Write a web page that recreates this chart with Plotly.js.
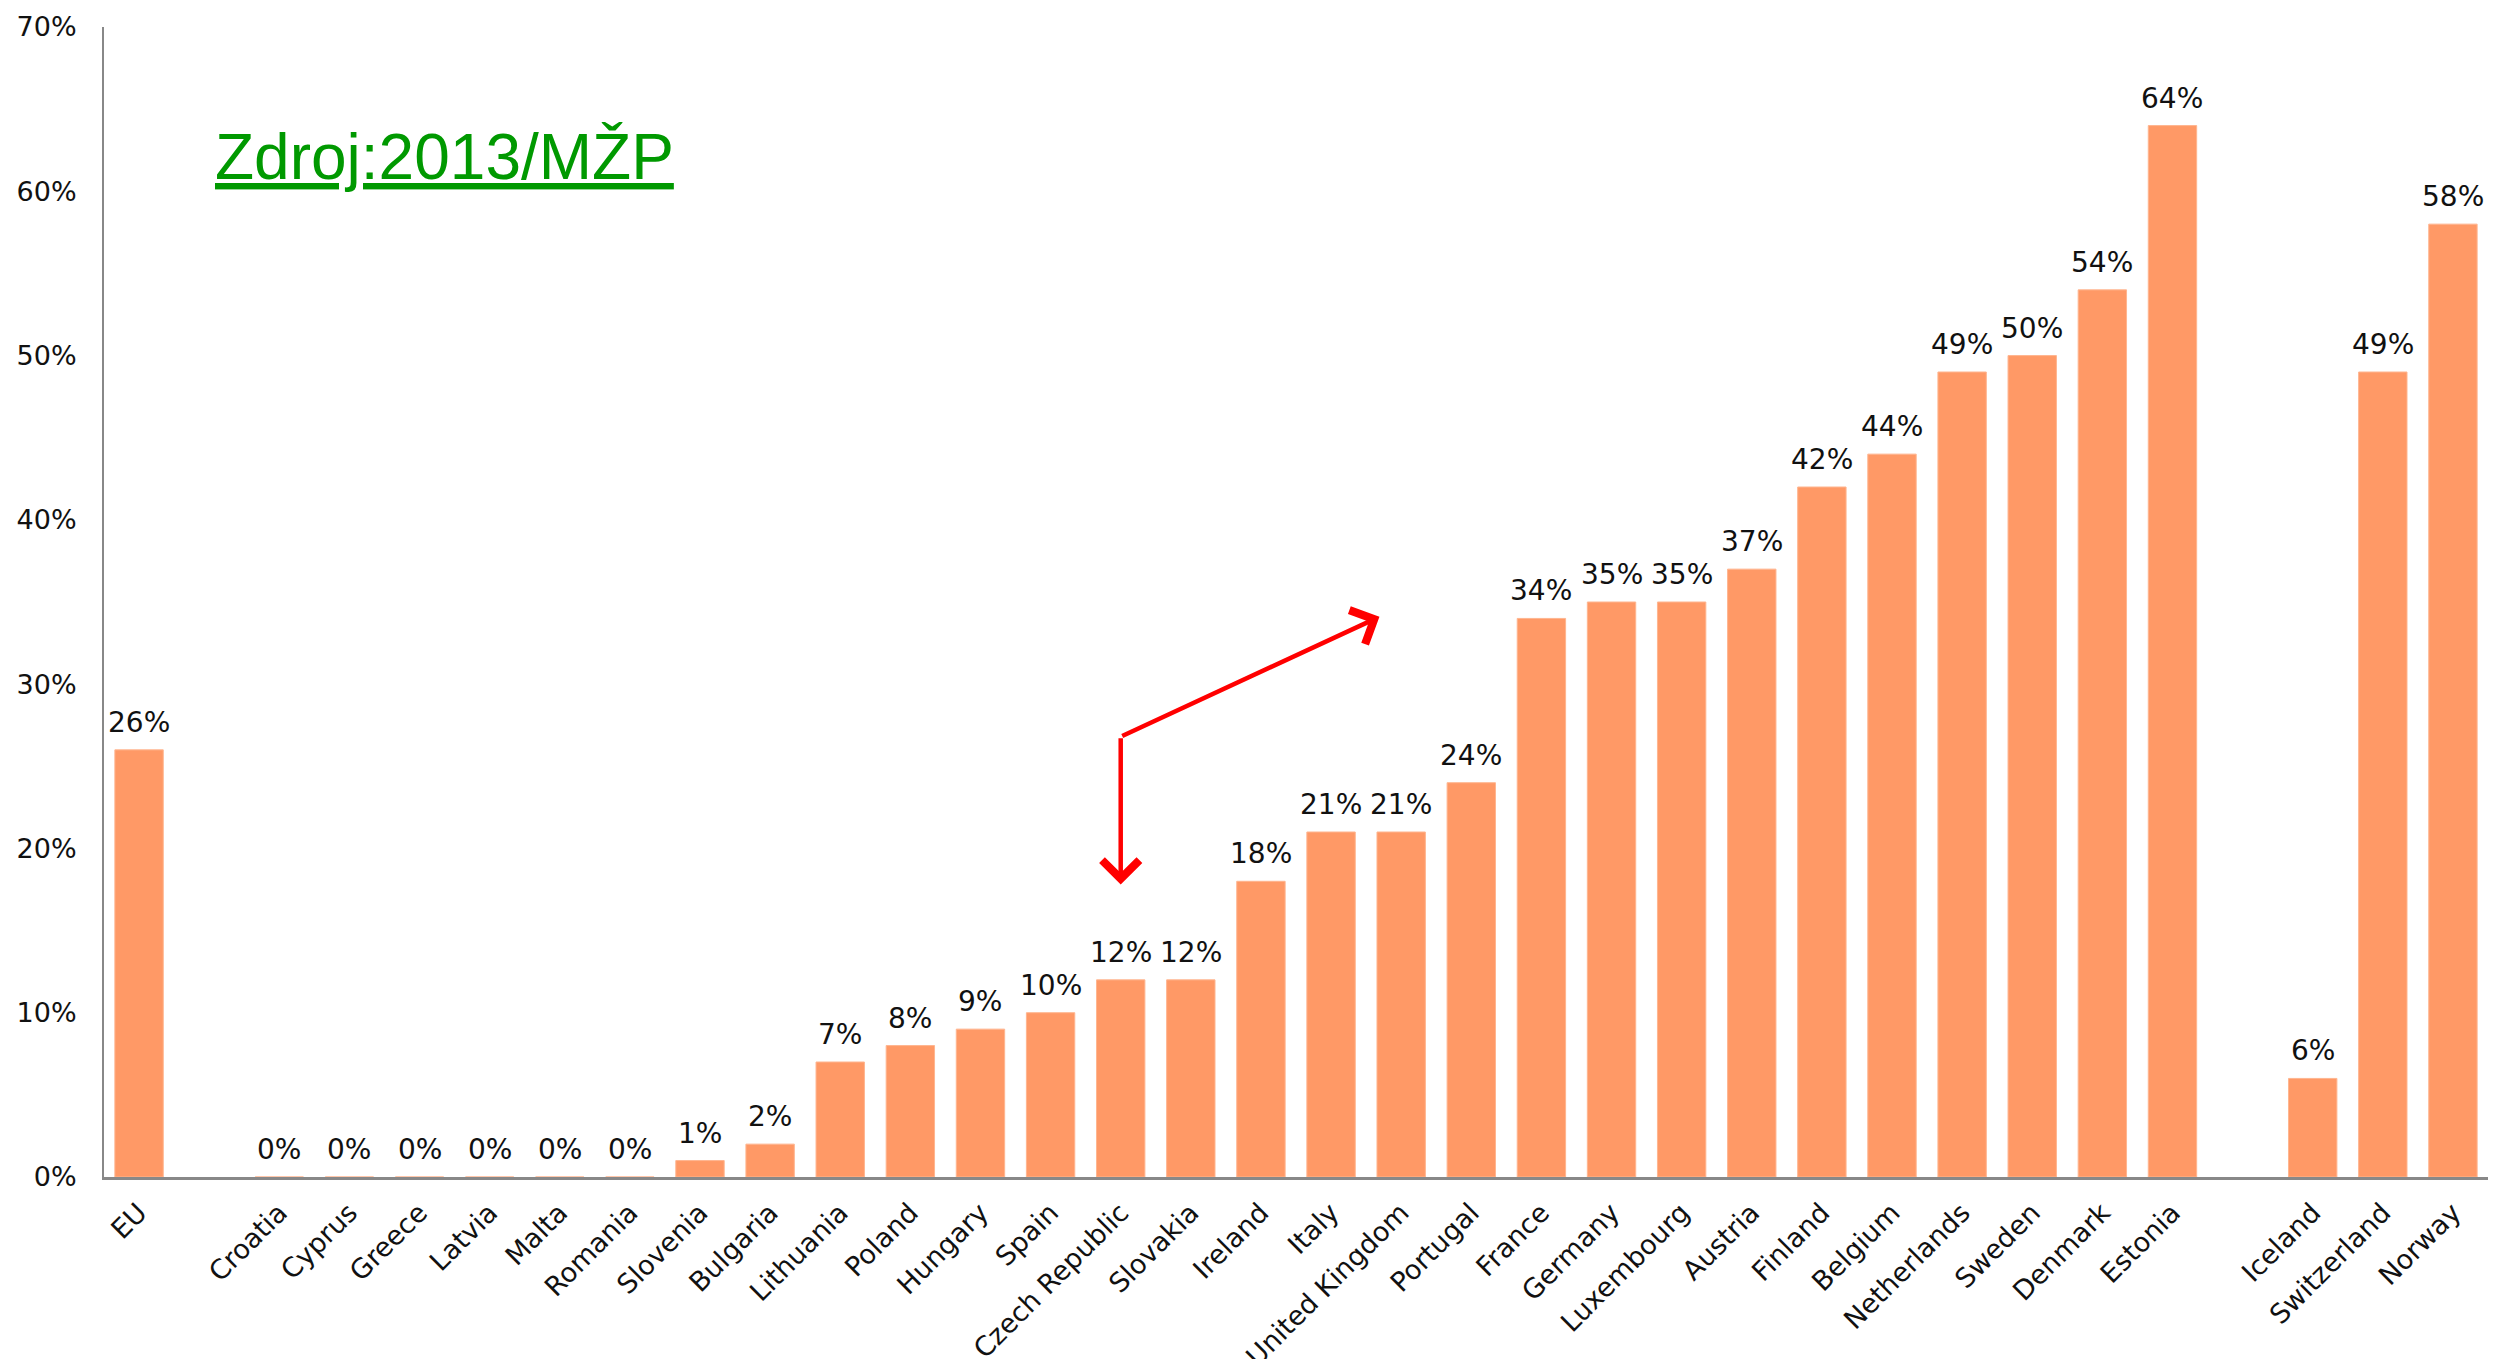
<!DOCTYPE html>
<html>
<head>
<meta charset="utf-8">
<script src="https://cdn.plot.ly/plotly-3.0.1.min.js"></script>
<style>html,body{margin:0;padding:0;background:#fff;}#chart{width:2514px;height:1359px;}</style>
</head>
<body>
<div id="chart"></div>
<script>
// Categories (GAP_ entries are empty spacer slots)
const categories = ["EU","GAP_1","Croatia","Cyprus","Greece","Latvia","Malta","Romania","Slovenia","Bulgaria","Lithuania","Poland","Hungary","Spain","Czech Republic","Slovakia","Ireland","Italy","United Kingdom","Portugal","France","Germany","Luxembourg","Austria","Finland","Belgium","Netherlands","Sweden","Denmark","Estonia","GAP_2","Iceland","Switzerland","Norway"];
const values = [26,null,0,0,0,0,0,0,1,2,7,8,9,10,12,12,18,21,21,24,34,35,35,37,42,44,49,50,54,64,null,6,49,58];
const tickLabels = categories.map(c => c.startsWith("GAP_") ? "" : c);
const yTicks = [0,10,20,30,40,50,60,70];
const sourceText = "Zdroj:2013/MŽP";

const trace = {
  type: "bar",
  x: categories,
  y: values,
  marker: {color: "#FF9966", line: {color: "#FFB58F", width: 1}},
  hoverinfo: "skip"
};

// value labels above bars, built from the data arrays
const valueLabels = [];
categories.forEach((c, i) => {
  if (values[i] === null) return;
  valueLabels.push({
    xref: "x", yref: "y", x: c, y: values[i],
    xanchor: "center", yanchor: "bottom", yshift: 9,
    showarrow: false, text: values[i] + "%",
    font: {family: "DejaVu Sans", size: 28, color: "#111"}
  });
});

const czIdx = categories.indexOf("Czech Republic");

const layout = {
  width: 2514, height: 1359,
  margin: {l: 104, r: 26, t: 27, b: 182},
  paper_bgcolor: "#fff", plot_bgcolor: "#fff",
  showlegend: false,
  bargap: 0.31,
  font: {family: "DejaVu Sans", color: "#111"},
  xaxis: {
    type: "category",
    categoryorder: "array", categoryarray: categories,
    tickmode: "array", tickvals: categories, ticktext: tickLabels,
    tickangle: -45,
    tickfont: {family: "DejaVu Sans", size: 27, color: "#111"},
    showline: true, linecolor: "#888", linewidth: 3,
    ticks: "", showgrid: false, zeroline: false,
    ticklabelstandoff: 6,
    range: [-0.5, categories.length - 0.5]
  },
  yaxis: {
    range: [0, 70],
    tickmode: "array", tickvals: yTicks, ticktext: yTicks.map(v => v + "%"),
    tickfont: {family: "DejaVu Sans", size: 27, color: "#111"},
    showline: true, linecolor: "#888", linewidth: 2,
    ticks: "", showgrid: false, zeroline: false,
    ticklabelstandoff: 20
  },
  annotations: valueLabels.concat([
    {
      xref: "paper", yref: "paper", x: 0.0457, y: 0.887,
      xanchor: "left", yanchor: "middle", showarrow: false,
      text: '<span style="text-decoration:underline">' + sourceText + '</span>',
      font: {family: "Liberation Sans", size: 64, color: "#009900"}
    },
    {
      xref: "x", yref: "y", axref: "x", ayref: "y",
      x: czIdx, y: 17.8, ax: czIdx, ay: 26.8, text: "",
      showarrow: true, arrowhead: 4, arrowsize: 1.6, arrowwidth: 4.5, arrowcolor: "#FF0000"
    },
    {
      xref: "x", yref: "y", axref: "x", ayref: "y",
      x: czIdx + 3.69, y: 34.1, ax: czIdx, ay: 26.8, text: "",
      showarrow: true, arrowhead: 4, arrowsize: 1.6, arrowwidth: 4.5, arrowcolor: "#FF0000"
    }
  ])
};

Plotly.newPlot("chart", [trace], layout, {displayModeBar: false, staticPlot: true});
</script>
</body>
</html>
